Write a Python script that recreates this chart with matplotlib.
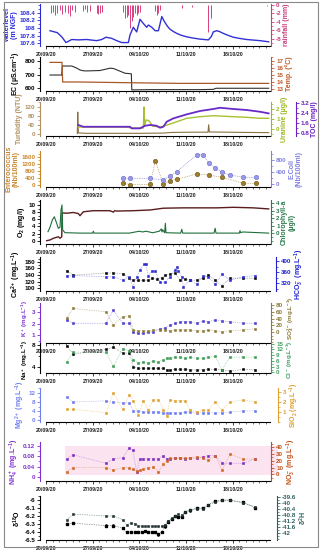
import numpy as np
import pandas as pd
import matplotlib
matplotlib.use("Agg")
import matplotlib.pyplot as plt
import matplotlib.dates as mdates
from matplotlib.ticker import AutoMinorLocator, FuncFormatter
from matplotlib.patches import Rectangle

plt.rcParams['font.family'] = ['Liberation Sans', 'DejaVu Sans']
plt.rcParams['font.weight'] = 'bold'
plt.rcParams['mathtext.default'] = 'regular'

# ---------------- data (days after 20/09/2020) ----------------
start = pd.Timestamp('2020-09-20')
x_span = 33.6
tick_dates = ['2020-09-20', '2020-09-27', '2020-10-04', '2020-10-11', '2020-10-18']

wl_days = [0.6, 1.7, 2.36, 3.0, 3.86, 4.85, 6.1, 7.6, 8.36, 9.0, 9.86, 10.6, 11.37, 12.36, 12.6, 13.1,
           13.6, 14.1, 14.6, 15.1, 15.36, 15.87, 16.37, 16.86, 17.37, 17.6, 17.87, 18.2, 18.6, 19.1,
           19.62, 20.3, 21.1, 22.0, 23.1, 24.37, 24.8, 25.1, 25.6, 26.0, 26.6, 27.3, 28.1, 29.0, 30.1,
           32.1, 33.4]
waterlevel = [107.93, 107.88, 107.77, 107.62, 107.70, 107.69, 107.70, 107.67, 107.70, 107.76, 107.73,
              107.67, 107.62, 107.62, 107.82, 108.02, 107.90, 108.23, 108.12, 108.02, 108.08, 108.02,
              107.93, 107.93, 108.30, 108.22, 108.14, 108.05, 107.97, 107.91, 107.86, 107.81, 107.77,
              107.74, 107.71, 107.69, 107.78, 107.90, 107.93, 107.91, 107.86, 107.81, 107.76, 107.73,
              107.70, 107.67, 107.64]

rain_days = [0.70, 1.10, 1.35, 1.70, 2.10, 2.35, 2.85, 3.35, 3.60, 3.85, 4.35, 5.6, 5.86, 6.2, 6.6,
             7.6, 7.86, 8.1, 8.36, 11.6, 11.86, 12.1, 12.36, 12.6, 12.86, 13.1, 13.36, 13.6, 13.86,
             14.1, 16.36, 16.6, 16.86, 17.1, 20.37, 21.87, 24.37, 24.72, 33.13]
rainfall = [-1.98, -1.59, -2.38, -1.83, -1.19, -2.14, -1.59, -1.98, -2.62, -1.19, -1.59, -1.35, -1.03,
            -1.59, -1.43, -1.83, -2.14, -1.98, -1.67, -1.59, -3.17, -2.78, -2.38, -5.56, -3.73, -2.78,
            -1.98, -2.38, -1.98, -1.59, -1.35, -2.38, -1.83, -1.19, -0.79, -0.56, -6.35, -3.17, -0.24]

ec_days = [0.6, 2.36, 2.45, 3.86, 4.6, 5.1, 5.6, 6.1, 8.1, 9.6, 10.1, 11.86, 12.8, 12.87, 15.6, 23.1,
           25.1, 25.5, 33.4]
ec = [697, 697, 763, 763, 748, 734, 728, 727, 730, 747, 745, 710, 706, 588, 590, 590, 592, 600, 600]

temp_days = [0.6, 2.4, 2.5, 5.0, 12.0, 20.0, 33.4]
temp = [16.8, 16.8, 14.0, 14.0, 13.9, 13.8, 13.8]

turb_days = [4.7, 4.76, 4.85, 6.0, 10.0, 14.0, 17.5, 19.0, 22.0, 24.3, 24.4, 24.5, 27.0, 30.0, 33.4]
turbidity = [2, 97, 5, 3, 3, 3, 4, 7, 8, 8, 41, 9, 8, 7, 6]

ura_days = [4.85, 8.0, 12.0, 12.8, 14.6, 14.7, 14.8, 15.0, 15.4, 16.0, 17.0, 17.5, 18.4, 19.62, 21.1,
            23.1, 25.1, 28.1, 30.1, 32.1, 33.4]
uranine = [0.2, 0.2, 0.2, 0.1, 0.1, 2.2, 0.3, 0.9, 0.85, 0.3, 0.2, 0.25, 0.45, 0.73, 1.07, 1.23, 1.33,
           1.23, 1.17, 1.07, 1.07]

toc_days = [4.85, 5.6, 8.1, 12.6, 12.87, 14.1, 14.86, 15.6, 16.6, 17.1, 17.6, 18.1, 19.1, 21.1, 23.1,
            25.1, 26.1, 28.1, 30.1, 32.1, 33.4]
toc = [1.42, 1.28, 1.28, 1.28, 1.15, 1.15, 1.36, 1.42, 1.36, 1.2, 1.28, 1.68, 1.95, 2.27, 2.54, 2.7,
       2.8, 2.7, 2.62, 2.48, 2.35]

ent_days = [11.6, 12.6, 15.6, 16.4, 17.6, 18.6, 19.6, 22.6, 24.4, 26.4, 29.6, 31.5]
enterococcus = [70, 0, 12, 1367, 12, 221, 302, 611, 553, 419, 70, 70]
eco_days = [11.6, 12.6, 15.6, 17.6, 18.6, 19.6, 22.6, 23.6, 24.4, 25.4, 26.4, 27.6, 29.6, 31.5]
ecoli = [177, 177, 177, 119, 255, 402, 970, 970, 688, 517, 381, 289, 211, 211]

o2_days = [0.1, 0.6, 1.1, 1.85, 2.1, 2.36, 2.42, 3.1, 4.1, 4.85, 5.1, 5.6, 7.1, 9.6, 10.1, 10.3, 10.6,
           13.1, 15.6, 17.6, 20.6, 25.6, 28.1, 31.1, 33.4]
o2 = [0.0, 0.2, 0.67, 1.1, 0.67, 1.1, 7.8, 7.7, 7.9, 7.6, 7.0, 8.1, 8.4, 8.4, 8.0, 8.4, 8.3, 8.4, 8.6,
      9.1, 9.2, 9.2, 9.35, 9.2, 8.9]

chl_days = [0.3, 0.6, 0.95, 1.25, 1.6, 1.85, 2.1, 2.25, 2.4, 2.5, 2.85, 3.1, 5.1, 7.0, 7.1, 7.2, 10,
            11.5, 12.5, 14, 14.5, 15, 16, 17, 17.3, 17.4, 17.5, 17.8, 17.9, 18.0, 20.2, 20.37, 20.5,
            25.2, 25.37, 25.5, 29.0, 29.1, 29.2, 29.5, 33.4]
chlorophyll = [0.24, 0.82, 1.78, 2.2, 1.34, 0.68, 0.82, 3.1, 3.75, 0.46, 0.1, 0.1, 0.05, 0.05, 0.3,
               0.05, 0.05, 0.05, 0.05, 0.3, 0.2, 0.3, 0.1, 0.3, 0.6, 0.2, 0.5, 0.1, 1.34, 0.1, 0.05,
               0.55, 0.05, 0.05, 0.68, 0.05, 0.05, 0.37, 0.1, 0.2, 0.05]

ca_days = [3.1, 4.1, 9.0, 10.1, 11.5, 12.5, 13.1, 13.86, 14.6, 15.36, 15.87, 16.6, 17.37, 17.87, 18.6,
           19.37, 20.1, 20.87, 21.6, 22.6, 23.6, 24.37, 25.37, 26.4, 27.6, 29.6, 31.4]
ca = [153, 139, 146, 146, 144, 130, 124, 124, 124, 124, 130, 127, 132, 139, 142, 147, 124, 127, 124,
      124, 132, 139, 124, 107, 130, 130, 130]
hco3_days = [3.1, 4.1, 9.0, 10.1, 11.5, 12.5, 13.0, 13.6, 14.1, 14.7, 14.97, 15.36, 15.87, 16.37, 17.1,
             17.87, 18.6, 19.37, 19.62, 19.86, 20.37, 20.6, 21.6, 22.6, 23.6, 24.37, 25.37, 26.4,
             27.6, 29.6, 31.4]
hco3 = [348, 348, 344, 344, 332, 344, 309, 344, 368, 388, 388, 348, 364, 364, 324, 324, 344, 368, 380,
        364, 344, 309, 332, 317, 348, 344, 317, 353, 332, 344, 348]

k_days = [3.1, 4.1, 9.0, 10.1, 11.5, 12.5, 13.1, 13.86, 14.6, 15.36, 16.1, 17.1, 17.87, 18.6, 19.37,
          20.1, 20.87, 21.6, 22.6, 23.6, 24.37, 25.37, 26.4, 27.6, 29.6, 31.4]
k = [2.33, 2.04, 2.04, 3.2, 2.04, 2.04, 1.24, 1.15, 1.15, 1.24, 1.3, 1.53, 1.65, 1.89, 2.04, 2.18,
     2.18, 2.18, 2.04, 2.24, 2.18, 2.33, 2.24, 2.18, 2.04, 2.04]
so4 = [41, 70, 60, 21, 46, 48, 7, 4, 4, 4, 7, 7, 7, 4, 7, 7, 7, 7, 4, 4, 7, 4, 2, 4, 7, 10]

ion_days = [3.1, 4.1, 9.0, 10.1, 11.5, 12.5, 13.1, 13.86, 14.6, 15.36, 16.1, 16.86, 17.6, 18.1, 18.6,
            19.37, 20.1, 20.87, 21.6, 22.6, 23.6, 24.37, 25.37, 26.4, 27.6, 29.6, 31.4]
na = [7.8, 6.3, 7.2, 7.6, 6.5, 6.5, 4.0, 3.7, 3.7, 3.7, 3.7, 3.7, 3.7, 3.4, 3.4, 3.5, 3.5, 3.5, 3.4,
      3.4, 3.4, 3.5, 3.5, 3.4, 3.2, 3.5, 3.4]
cl = [5.3, 10.6, 10.6, 3.2, 12.4, 11.4, 6.7, 4.9, 5.6, 4.9, 6.2, 5.6, 6.7, 7.4, 7.4, 8.0, 8.0, 7.4,
      8.0, 7.4, 7.4, 8.0, 8.5, 1.4, 8.0, 8.0, 8.0]
mg = [10, 8, 8.5, 8, 7.6, 7.6, 4.1, 4.1, 3.6, 3.6, 3.6, 3.6, 3.2, 3.2, 3.2, 3.2, 3.2, 3.6, 3.6, 3.2,
      3.2, 3.2, 3.2, 3.2, 3.6, 4.1, 4.1]
sio2 = [1.24, 1.24, 0.9, 2.87, 1.24, 2.7, 2.12, 0.67, 2.12, 1.17, 2.19, 2.19, 1.17, 0.56, 2.19, 2.12,
        2.12, 2.12, 1.17, 1.0, 1.17, 1.17, 2.0, 1.17, 2.0, 2.19, 2.0]

n_days = [3.1, 4.1, 9.0, 10.1, 11.5, 12.5, 13.0, 13.6, 14.1, 14.6, 15.36, 16.1, 16.86, 17.6, 18.1,
          18.6, 19.37, 20.1, 20.87, 21.6, 22.6, 23.6, 24.37, 25.37, 26.4, 27.6, 29.6, 31.4]
nh4 = [0.07, 0.085, 0.053, 0.07, 0.074, 0.112, 0.104, 0.021, 0.07, 0.07, 0.07, 0.07, 0.07, 0.082,
       0.07, 0.07, 0.074, 0.072, 0.07, 0.072, 0.072, 0.078, 0.082, 0.082, 0.053, 0.053, 0.053, 0.07]
no3 = [4, 10, 10, 6.5, 10, 10, 8, 5, 6.5, 8, 10, 11.3, 4, 14.8, 19.6, 23.6, 23.6, 24.4, 23.6, 24.4,
       26, 23.6, 21, 27.3, 6.5, 29.3, 22.5, 22.5]

iso_days = [3.1, 4.1, 9.0, 10.1, 11.5, 12.1, 12.7, 13.36, 13.86, 14.36, 14.86, 15.36, 15.87, 16.37,
            16.86, 17.37, 17.87, 18.36, 18.87, 19.37, 19.86, 20.37, 20.87, 21.6, 22.6, 23.6, 24.37,
            25.37, 26.4, 27.6, 29.6, 31.4]
d18o = [-6.30, -6.29, -6.32, -6.32, -6.35, -6.40, -6.40, -6.40, -6.40, -6.40, -6.39, -6.40, -6.40,
        -6.40, -6.43, -6.40, -6.33, -6.27, -6.24, -6.20, -6.21, -6.21, -6.15, -6.13, -6.10, -6.10,
        -6.06, -6.01, -6.00, -6.00, -6.03, -6.10]
d18o_err = 0.015
d2h = [-41.1, -40.73, -40.85, -40.85, -41.1, -41.46, -41.32, -41.39, -41.5, -41.55, -41.55, -41.55,
       -41.55, -41.55, -41.55, -41.55, -41.46, -41.17, -41.02, -40.85, -40.73, -40.8, -40.58, -40.45,
       -40.37, -40.37, -40.08, -39.93, -39.8, -39.8, -39.97, -40.24]


def to_dates(days):
    return start + pd.to_timedelta(np.asarray(days, dtype=float), unit='D')


# ---------------- layout helpers ----------------
W, H = 325, 550
fig = plt.figure(figsize=(3.25, 5.5), dpi=100)
fmt_g = FuncFormatter(lambda v, p: '%g' % round(v, 6))


def panel(top, bottom):
    ax = fig.add_axes([46 / W, 1 - bottom / H, 224 / W, (bottom - top) / H])
    ax.set_facecolor('none')
    ax.set_xlim(start, start + pd.Timedelta(days=x_span))
    ax.set_xticks(pd.to_datetime(tick_dates))
    ax.xaxis.set_major_formatter(mdates.DateFormatter('%d/%m/%y'))
    ax.xaxis.set_minor_locator(mdates.DayLocator())
    ax.tick_params(axis='x', which='major', labelsize=3.8, length=2.5, width=0.6, pad=1.5,
                   colors='#222222')
    ax.tick_params(axis='x', which='minor', length=1.2, width=0.4)
    ax.spines['bottom'].set_linewidth(0.8)
    return ax


def yaxis(ax, side, lim, ticks, color, label, offset, minor=2, lpad=1.0, lsize=5, ly=None):
    other = 'right' if side == 'left' else 'left'
    ax.spines[other].set_visible(False)
    ax.spines['top'].set_visible(False)
    if side == 'right':
        ax.spines['bottom'].set_visible(False)
        ax.yaxis.tick_right()
        ax.yaxis.set_label_position('right')
    else:
        ax.yaxis.tick_left()
    sp = ax.spines[side]
    sp.set_visible(True)
    sp.set_position(('outward', offset))
    sp.set_color(color)
    sp.set_linewidth(0.8)
    ax.set_ylim(*lim)
    ax.set_yticks(ticks)
    ax.yaxis.set_major_formatter(fmt_g)
    ax.yaxis.set_minor_locator(AutoMinorLocator(minor))
    ax.tick_params(axis='y', which='major', colors=color, labelsize=4.5, length=2.5, width=0.6, pad=1)
    ax.tick_params(axis='y', which='minor', colors=color, length=1.3, width=0.5)
    ax.set_ylabel(label, color=color, fontsize=lsize, fontweight='bold', labelpad=lpad, linespacing=1.0)
    if ly is not None:
        ax.yaxis.label.set_y(ly)


def twin(ax):
    t = ax.twinx()
    t.set_facecolor('none')
    return t


def dotted(ax, days, vals, color, marker='s', ms=1.8, lc=None, mec=None):
    ax.plot(to_dates(days), vals, ls=(0, (1, 1.5)), lw=0.5, color=lc or color, marker=marker, ms=ms,
            mfc=color, mec=mec or color, mew=0.4)


# pink highlight behind the nitrate panel (as in the source figure)
fig.add_artist(Rectangle((65 / W, 1 - 475 / H), 213 / W, 29 / H, transform=fig.transFigure,
                         color='#fbe3ef', zorder=-1, lw=0))

# 1 water level / rainfall
ax = panel(4, 46)
ax.plot(to_dates(wl_days), waterlevel, color='#3232d2', lw=1.0)
yaxis(ax, 'left', (107.53, 108.63), [107.6, 107.8, 108, 108.2, 108.4], '#2a2ad8',
      'waterlevel\n(m NGF)', 4.3)
t = twin(ax)
t.vlines(to_dates(rain_days), 0, rainfall, color='#d6407f', lw=0.7)
yaxis(t, 'right', (-9.76, 0.24), [-8, -6, -4, -2, 0], '#c8407e', 'rainfall (mm)', 1.0)

# 2 EC / temperature
ax = panel(57, 91)
ax.plot(to_dates(ec_days), ec, color='#303030', lw=0.8)
yaxis(ax, 'left', (580, 829), [600, 700, 800], 'black', 'EC (µS.cm$^{-1}$)', 4.3)
t = twin(ax)
t.plot(to_dates(temp_days), temp, color='#a9582a', lw=0.9)
yaxis(t, 'right', (12.71, 17.57), [13, 14, 15, 16, 17], '#c05a28', 'Temp. (°C)', 1.0)

# 3 turbidity / uranine / TOC
ax = panel(102, 136)
ax.plot(to_dates(turb_days), turbidity, color='#8a7040', lw=0.8)
yaxis(ax, 'left', (-8.9, 142), [0, 40, 80, 120], '#b09060', 'Turbidity (NTU)', 4.3)
t = twin(ax)
t.plot(to_dates(ura_days), uranine, color='#a8c030', lw=1.0)
yaxis(t, 'right', (-0.7, 2.7), [0, 1, 2], '#9ab820', 'Uranine (µg/l)', 1.0)
t2 = twin(ax)
t2.plot(to_dates(toc_days), toc, color='#6a2ac8', lw=1.3)
yaxis(t2, 'right', (0.54, 3.26), [0.8, 1.6, 2.4, 3.2], '#6a1fbf', 'TOC (mg/l)', 18.5)

# 4 Enterococcus / E. coli
ax = panel(151, 187)
dotted(ax, ent_days, enterococcus, '#9c7d2c', marker='o', ms=3.2, mec='#6b5518')
yaxis(ax, 'left', (-145, 1949), [0, 400, 800, 1200, 1600], '#c8862a',
      'Enterococcus\n(Nb/100ml)', 4.3)
t = twin(ax)
dotted(t, eco_days, ecoli, '#9a9ae6', marker='o', ms=3.2, mec='#6a6ad0', lc='#6a6ad0')
yaxis(t, 'right', (-119, 1106), [0, 400, 800], '#8080e0', 'E.Coli\n(Nb/100ml)', 1.0)

# 5 O2 / chlorophyll
ax = panel(200, 244)
ax.plot(to_dates(o2_days), o2, color='#5a1c1c', lw=1.0)
yaxis(ax, 'left', (-0.93, 11.4), [0, 2, 4, 6, 8, 10], 'black', 'O$_2$ (mg/l)', 4.3)
t = twin(ax)
t.plot(to_dates(chl_days), chlorophyll, color='#1e6e3a', lw=0.8)
yaxis(t, 'right', (-1.38, 4.4), [0, 1, 2, 3, 4], '#2a7a4a', 'Chlorophyll-a\n(µg/l)', 1.0)

# 6 Ca / HCO3
ax = panel(257, 291)
dotted(ax, ca_days, ca, 'black', lc='#777777')
yaxis(ax, 'left', (91, 194.8), [100, 120, 140, 160, 180], 'black', 'Ca$^{2+}$ (mg.L$^{-1}$)', 4.3)
t = twin(ax)
dotted(t, hco3_days, hco3, '#2a2ad0', lc='#8080e0')
yaxis(t, 'right', (293.3, 414), [320, 360, 400], '#2020d0', 'HCO$_3^-$ (mg.L$^{-1}$)', 4.3)

# 7 K / SO4
ax = panel(303, 343)
dotted(ax, k_days, k, '#4a3ad0', lc='#8a7ae0')
yaxis(ax, 'left', (0.29, 3.84), [1, 2, 3], '#7a30d0', 'K$^+$ (mg.L$^{-1}$)', 4.3,
      lsize=4.5, ly=0.6)
t = twin(ax)
dotted(t, k_days, so4, '#8b7a3a', lc='#b0a070')
yaxis(t, 'right', (-31.6, 85.9), [0, 20, 40, 60, 80], '#8b7a3a', 'SO$_4^{2-}$ (mg.L$^{-1}$)', 1.0,
      lsize=4.5, ly=0.62)

# 8 Na / Cl
ax = panel(343, 373)
dotted(ax, ion_days, na, 'black', lc='#777777')
yaxis(ax, 'left', (2.83, 8.37), [4, 8], 'black', 'Na$^+$ (mg.L$^{-1}$)', 4.3, lsize=4.5, ly=0.45)
t = twin(ax)
dotted(t, ion_days, cl, '#3a9a50', lc='#80c090')
yaxis(t, 'right', (-0.3, 15.4), [0, 3, 6, 9, 12, 15], '#40a060', 'Cl$^-$ (mg.L$^{-1}$)', 1.0,
      lsize=4.5, ly=0.45)

# 9 Mg / SiO2
ax = panel(388, 422)
dotted(ax, ion_days, mg, '#6a78f0', lc='#a0a8f0')
yaxis(ax, 'left', (-0.75, 14.1), [0, 4, 8, 12], '#7080f0', 'Mg$^{2+}$ (mg.L$^{-1}$)', 4.3)
t = twin(ax)
dotted(t, ion_days, sio2, '#e0a030', lc='#ecc070')
yaxis(t, 'right', (-0.05, 3.4), [1, 2, 3], '#e0a030', 'SiO$_2$ (mg.L$^{-1}$)', 5.5)

# 10 NH4 / NO3
ax = panel(442, 481)
dotted(ax, n_days, nh4, '#7a2ac0', lc='#b080e0')
yaxis(ax, 'left', (-0.014, 0.1336), [0, 0.04, 0.08, 0.12], '#8030d0',
      'NH$_4^+$ (mg.L$^{-1}$)', 4.3)
t = twin(ax)
dotted(t, n_days, no3, '#d0641e', lc='#e0a070')
yaxis(t, 'right', (-9.5, 47.3), [0, 10, 20, 30, 40], '#c0501a', 'NO$_3^-$ (mg.L$^{-1}$)', 1.0)

# 11 d18O / d2H
ax = panel(496, 540)
ax.plot(to_dates(iso_days), d18o, ls=(0, (1, 1.5)), lw=0.5, color='#555555')
ax.errorbar(to_dates(iso_days), d18o, yerr=d18o_err, fmt='s', ms=1.8, color='black',
            elinewidth=0.5, capsize=0.8, capthick=0.4)
yaxis(ax, 'left', (-6.5, -5.95), [-6.5, -6.4, -6.3, -6.2, -6.1, -6.0], 'black', 'δ$^{18}$O', 4.3)
t = twin(ax)
dotted(t, iso_days, d2h, '#1f2f2f', lc='#5a7070')
yaxis(t, 'right', (-42.48, -39.5), [-42, -41.6, -41.2, -40.8, -40.4, -40, -39.6], '#2f5f5f',
      'δ$^2$H', 5.0)

# outer frame
fig.add_artist(Rectangle((4 / W, 1 - 547 / H), 314 / W, 545 / H, transform=fig.transFigure,
                         fill=False, ec='#888888', lw=0.8))

fig.savefig('out.png', dpi=100)
